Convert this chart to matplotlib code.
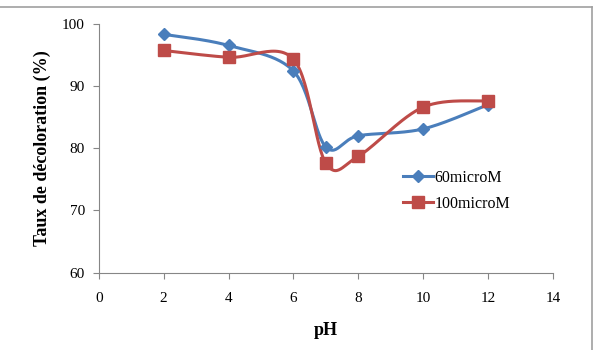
"""pH effect on decolouration rate, two concentrations."""
import matplotlib
matplotlib.use("Agg")
import matplotlib.pyplot as plt
import numpy as np
from matplotlib.lines import Line2D

ph = [2, 4, 6, 7, 8, 10, 12]
taux_60 = [98.3, 96.5, 92.4, 80.2, 82.0, 83.1, 87.0]
taux_100 = [95.7, 94.6, 94.3, 77.6, 78.7, 86.6, 87.6]
labels = ["60microM", "100microM"]

BLUE = "#4A7EBB"
RED = "#BE4B48"
GRID = "#868686"


def smooth(x, y, n=30):
    """Excel-like smoothed line: Catmull-Rom bezier through the points."""
    x = np.asarray(x, float)
    y = np.asarray(y, float)
    px, py = [], []
    t = np.linspace(0, 1, n)
    for i in range(len(x) - 1):
        i0, i3 = max(i - 1, 0), min(i + 2, len(x) - 1)
        c1x = x[i] + (x[i + 1] - x[i0]) / 6
        c1y = y[i] + (y[i + 1] - y[i0]) / 6
        c2x = x[i + 1] - (x[i3] - x[i]) / 6
        c2y = y[i + 1] - (y[i3] - y[i]) / 6
        b = [(1 - t) ** 3, 3 * (1 - t) ** 2 * t, 3 * (1 - t) * t ** 2, t ** 3]
        px.append(b[0] * x[i] + b[1] * c1x + b[2] * c2x + b[3] * x[i + 1])
        py.append(b[0] * y[i] + b[1] * c1y + b[2] * c2y + b[3] * y[i + 1])
    return np.concatenate(px), np.concatenate(py)


plt.rcParams["font.family"] = ["Liberation Serif", "DejaVu Serif"]

W, H = 597, 350
fig = plt.figure(figsize=(W / 100, H / 100), dpi=100)
# chart frame: only top and right edges are visible
fig.lines.append(Line2D([0, 592 / W], [1 - 7 / H, 1 - 7 / H], transform=fig.transFigure,
                        color="#A0A0A0", lw=1.2))
fig.lines.append(Line2D([592 / W, 592 / W], [1 - 7 / H, 0], transform=fig.transFigure,
                        color="#A0A0A0", lw=1.2))

ax = fig.add_axes([98.7 / W, 1 - 272.7 / H, (553 - 98.7) / W, (272.7 - 23.7) / H])

for ys, col, mk, ms, lab in [(taux_60, BLUE, "D", 6, labels[0]),
                             (taux_100, RED, "s", 8, labels[1])]:
    sx, sy = smooth(ph, ys)
    ax.plot(sx, sy, color=col, lw=2.2, zorder=2)
    ax.plot(ph, ys, ls="none", marker=mk, ms=ms, color=col, zorder=3)
    ax.plot([], [], color=col, lw=2.2, marker=mk, ms=ms, label=lab)

ax.set_xlim(0, 14)
ax.set_ylim(60, 100)
ax.set_xticks(range(0, 15, 2))
ax.set_yticks(range(60, 101, 10))
for s in ("top", "right"):
    ax.spines[s].set_visible(False)
for s in ("left", "bottom"):
    ax.spines[s].set_color(GRID)
ax.tick_params(colors=GRID, labelcolor="black", labelsize=11, length=4)
ax.tick_params(axis="x", pad=10)
ax.tick_params(axis="y", pad=6)
ax.set_xlabel("pH", fontsize=13, fontweight="bold", labelpad=12)
ax.set_ylabel("Taux de décoloration (%)", fontsize=13, fontweight="bold", labelpad=8)

ax.legend(loc="upper left", bbox_to_anchor=(0.655, 0.44), frameon=False, fontsize=11.5,
          handlelength=1.9, handletextpad=0.1, labelspacing=0.65, borderaxespad=0)

fig.savefig("out.png", dpi=100)
